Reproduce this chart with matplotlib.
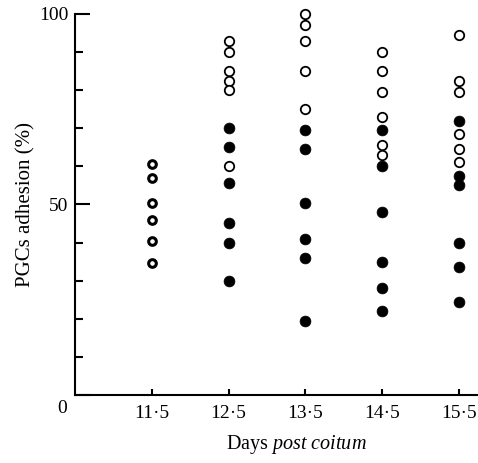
"""PGC adhesion by embryo age."""
import matplotlib.pyplot as plt

plt.rcParams['font.family'] = ['Liberation Serif', 'DejaVu Serif']
plt.rcParams['mathtext.fontset'] = 'custom'
plt.rcParams['mathtext.rm'] = 'Liberation Serif'
plt.rcParams['mathtext.it'] = 'Liberation Serif:italic'

# Days post coitum
days = [11.5, 12.5, 13.5, 14.5, 15.5]
day_labels = ['11·5', '12·5', '13·5', '14·5', '15·5']

# adhesion (%), open and filled circles per day
open_11 = [60.5, 57, 50.5, 46, 40.5, 34.5]
open_12 = [93, 90, 85, 82.5, 80, 60]
filled_12 = [70, 65, 55.5, 45, 40, 30]
open_13 = [100, 97, 93, 85, 75]
filled_13 = [69.5, 64.5, 50.5, 41, 36, 19.5]
open_14 = [90, 85, 79.5, 73, 65.5, 63]
filled_14 = [69.5, 60, 48, 35, 28, 22]
open_15 = [94.5, 82.5, 79.5, 68.5, 64.5, 61]
filled_15 = [72, 57.5, 55, 40, 33.5, 24.5]

open_sets = [open_12, open_13, open_14, open_15]
filled_sets = [filled_12, filled_13, filled_14, filled_15]

fig = plt.figure(figsize=(4.78, 4.63), dpi=100)
ax = fig.add_axes([0.157, 0.147, 0.843, 0.823])

# 11.5 dpc: small thick rings
ax.plot([days[0]] * len(open_11), open_11, 'o', ls='none', ms=5.5,
        mfc='white', mec='black', mew=2.2, clip_on=False)

for d, vals in zip(days[1:], open_sets):
    ax.plot([d] * len(vals), vals, 'o', ls='none', ms=6.8,
            mfc='white', mec='black', mew=1.3, clip_on=False)

for d, vals in zip(days[1:], filled_sets):
    ax.plot([d] * len(vals), vals, 'o', ls='none', ms=7.8,
            mfc='black', mec='black', mew=0.5, clip_on=False)

ax.set_xlim(10.5, 15.75)
ax.set_ylim(0, 100)

for side in ['top', 'right']:
    ax.spines[side].set_visible(False)
for side in ['left', 'bottom']:
    ax.spines[side].set_linewidth(1.5)

ax.set_xticks(days)
ax.set_xticklabels(day_labels)
ax.set_yticks([0, 50, 100])
ax.set_yticklabels(['', '50', '100'])
ax.set_yticks(range(10, 100, 10), minor=True)

ax.tick_params(axis='y', which='major', direction='in', length=11, width=1.5,
               pad=5, labelsize=14)
ax.tick_params(axis='y', which='minor', direction='in', length=5.5, width=1.5)
ax.tick_params(axis='x', which='major', direction='in', length=4.5, width=1.5,
               pad=7, labelsize=14)

# the zero sits below the corner
ax.annotate('0', xy=(0, 0), xycoords='axes fraction', xytext=(-9, -10),
            textcoords='offset points', ha='center', va='center', fontsize=14)

ax.set_ylabel('PGCs adhesion (%)', fontsize=15)
ax.yaxis.set_label_coords(-0.097, 0.5)
ax.set_xlabel('Days $\\mathit{post\\ coitum}$', fontsize=14.5)
ax.xaxis.set_label_coords(0.548, -0.1)

fig.savefig('out.png', dpi=100)
